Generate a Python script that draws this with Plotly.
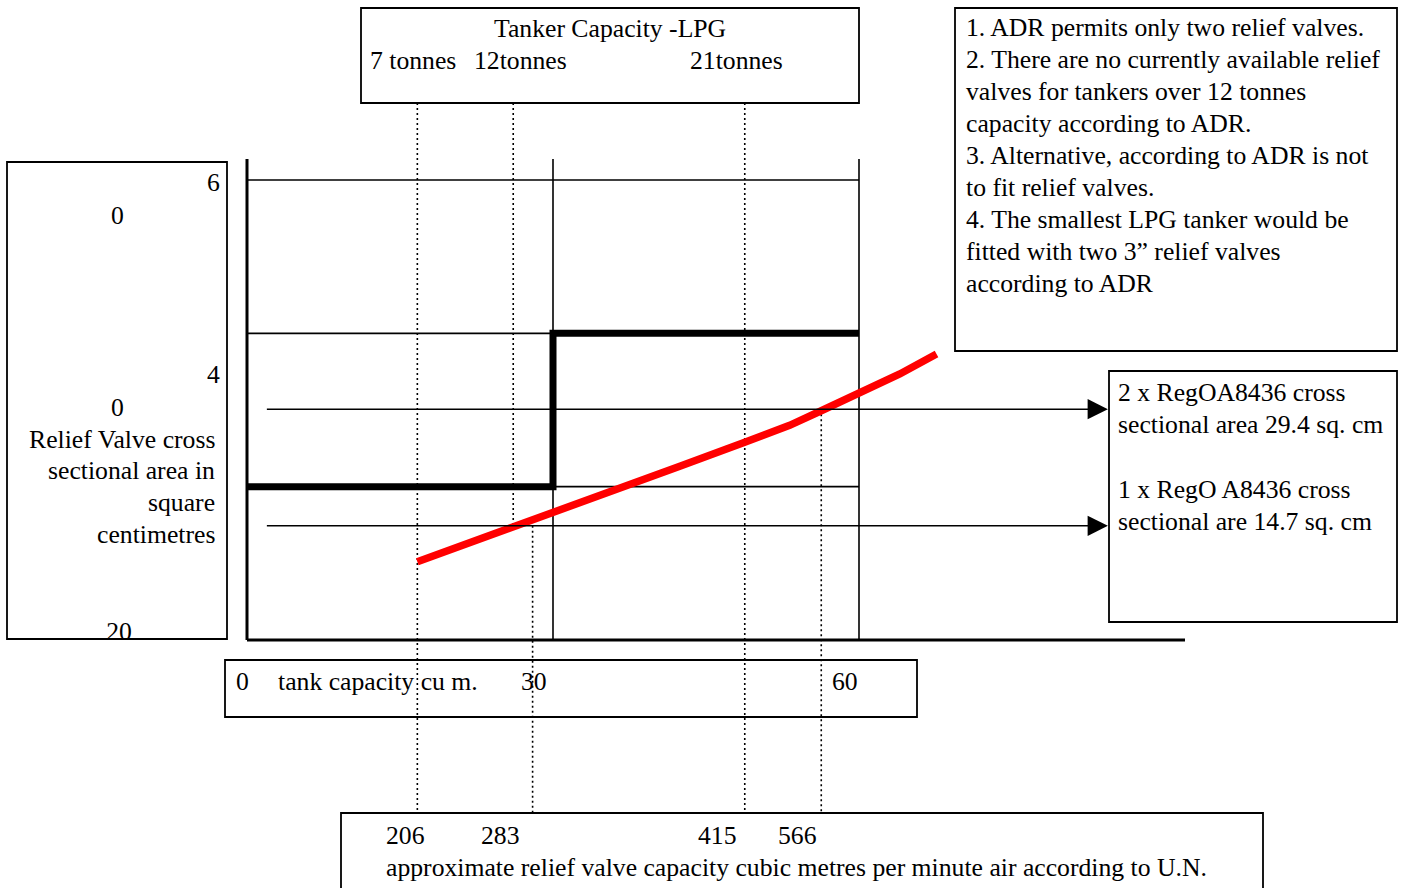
import plotly.graph_objects as go

# ---------------- data ----------------
# tank capacity (cu m) axis
tank_ticks = [0, 30, 60]
tank_tick_labels = ["0", "30", "60"]
# relief valve cross sectional area grid levels (sq cm)
area_grid = [20, 40, 60]
# required area step (thick black)
step_x = [0, 30, 60]
step_y = [20, 40, 40]
# approximate relief valve capacity curve (red)
red_x = [16.7, 21.9, 28.0, 34.6, 42.5, 48.8, 53.2, 56.3, 60.0, 64.0, 67.6]
red_y = [10.2, 12.7, 15.5, 18.8, 22.7, 25.8, 28.0, 29.9, 32.1, 34.7, 37.3]
# levels of the two RegO A8436 arrows (as drawn)
arrow_levels = [30.1, 14.9]
arrow_start_x = 1.8
arrow_tip_x = 84.4
# tanker sizes (LPG) on the tank capacity scale
tonnes_x = [16.7, 26.1, 48.8]
tonnes_labels = ["7 tonnes", "12tonnes", "21tonnes"]
# relief valve capacity (cu m / min air) markers
flow_x = [16.7, 28.0, 48.8, 56.3]
flow_labels = ["206", "283", "415", "566"]

notes = [
    "1. ADR permits only two relief valves.",
    "2. There are no currently available relief",
    "valves for tankers over 12 tonnes",
    "capacity according to ADR.",
    "3. Alternative, according to ADR is not",
    "to fit relief valves.",
    "4. The smallest LPG tanker would be",
    "fitted with two 3\u201d relief valves",
    "according to ADR",
]
valve_labels = [
    "2 x RegOA8436 cross",
    "sectional area 29.4 sq. cm",
    "1 x RegO A8436 cross",
    "sectional are 14.7 sq. cm",
]
y_title_lines = ["Relief Valve cross", "sectional area in", "square", "centimetres"]
x_title = "tank capacity cu m."
flow_title = "approximate relief valve capacity cubic metres per minute air according to U.N."
top_title = "Tanker Capacity -LPG"

# ---------------- layout geometry ----------------
W, H = 1401, 888
X0_PX, X60_PX = 247.0, 859.0   # pixel of tank capacity 0 and 60
Y0_PX, Y60_PX = 640.0, 180.0   # pixel of area 0 and 60
sx = (X60_PX - X0_PX) / 60.0
sy = (Y0_PX - Y60_PX) / 60.0
xmin = -X0_PX / sx
xmax = xmin + W / sx
ymax = Y0_PX / sy
ymin = ymax - H / sy


def pxx(px):  # pixel -> data x
    return xmin + px / sx


def pxy(py):  # pixel -> data y
    return ymax - py / sy


FONT = "Liberation Serif, Times New Roman, serif"
FS = 25.7

fig = go.Figure()

# grid lines (thin)
shapes = []
for g in area_grid:
    shapes.append(dict(type="line", xref="x", yref="y", x0=0, x1=60, y0=g, y1=g,
                       line=dict(color="black", width=1.6), layer="below"))
axis_top = pxy(159)
for t in tank_ticks[1:]:
    shapes.append(dict(type="line", xref="x", yref="y", x0=t, x1=t, y0=0, y1=axis_top,
                       line=dict(color="black", width=1.6), layer="below"))
# axis lines
shapes.append(dict(type="line", xref="x", yref="y", x0=0, x1=0, y0=0, y1=axis_top,
                   line=dict(color="black", width=3)))
shapes.append(dict(type="line", xref="x", yref="y", x0=0, x1=pxx(1185), y0=0, y1=0,
                   line=dict(color="black", width=3)))

# dotted marker lines
top_box_y = pxy(103)
bot_box_y = pxy(813)
segments = [
    (tonnes_x[0], top_box_y, bot_box_y),
    (tonnes_x[1], top_box_y, arrow_levels[1]),
    (flow_x[1], arrow_levels[1], bot_box_y),
    (tonnes_x[2], top_box_y, bot_box_y),
    (flow_x[3], arrow_levels[0], bot_box_y),
]
dx, dy = [], []
for x, a, b in segments:
    dx += [x, x, None]
    dy += [a, b, None]
fig.add_trace(go.Scatter(x=dx, y=dy, mode="lines", line=dict(color="black", width=1.6, dash="2px,3px"),
                         hoverinfo="skip"))

# step line
fig.add_trace(go.Scatter(x=step_x, y=step_y, mode="lines", line=dict(color="black", width=7, shape="hv"),
                         hoverinfo="skip"))
# red line
fig.add_trace(go.Scatter(x=red_x, y=red_y, mode="lines", line=dict(color="#ff0000", width=7.5),
                         hoverinfo="skip"))

# arrows
for lv in arrow_levels:
    fig.add_annotation(x=arrow_tip_x, y=lv, ax=arrow_start_x, ay=lv, xref="x", yref="y",
                       axref="x", ayref="y", text="", showarrow=True, arrowhead=2,
                       arrowsize=2.7, arrowwidth=1.5, arrowcolor="black")

# boxes (pixel positions)
LEFT_BOX = (7, 162, 227, 639)
boxes = [
    (361, 8, 859, 103),
    (955, 8, 1397, 351),
    LEFT_BOX,
    (1109, 371, 1397, 622),
    (225, 660, 917, 717),
    (341, 813, 1263, 900),
]
for x0, y0, x1, y1 in boxes:
    shapes.append(dict(type="rect", xref="paper", yref="paper", x0=x0 / W, x1=x1 / W,
                       y0=1 - y1 / H, y1=1 - y0 / H, line=dict(color="black", width=1.8),
                       fillcolor="rgba(0,0,0,0)"))


def label(text, x_px, base_px, anchor="left"):
    fig.add_annotation(text=text, xref="paper", yref="paper", x=x_px / W,
                       y=1 - (base_px - 0.34 * FS) / H, xanchor=anchor, yanchor="middle",
                       showarrow=False, borderpad=0, font=dict(family=FONT, size=FS, color="black"))


# top box
label(top_title, 610, 37, "center")
for t, xp in zip(tonnes_labels, [369, 473, 689]):
    label(t, xp, 69)
# notes box
for i, line in enumerate(notes):
    label(line, 965, 36 + 32 * i)
# valve box
for line, b in zip(valve_labels, [401, 433, 498, 530]):
    label(line, 1117, b)
# left box (y scale text box)
label("6", 221, 191, "right")
label("0", 117, 224, "center")
label("4", 221, 383, "right")
label("0", 117, 416, "center")
for line, b in zip(y_title_lines, [448, 479, 511, 543]):
    label(line, 216, b, "right")

# "20" clipped by the bottom of the left text box: draw it in a small subplot
bx0, by0, bx1, by1 = LEFT_BOX
fig.add_trace(go.Scatter(
    x=[(119 - bx0) / (bx1 - bx0)], y=[1 - ((642 - 0.34 * FS) - by0) / (by1 - by0)],
    mode="text", text=["20"], textposition="middle center",
    textfont=dict(family=FONT, size=FS, color="black"),
    xaxis="x2", yaxis="y2", cliponaxis=True, hoverinfo="skip"))

# tank capacity box
label(tank_tick_labels[0], 235, 690)
label(x_title, 277, 690)
label(tank_tick_labels[1], 520, 690)
label(tank_tick_labels[2], 831, 690)
# flow box
for t, xp in zip(flow_labels, [385, 480, 697, 777]):
    label(t, xp, 844)
label(flow_title, 385, 876)

fig.update_layout(
    width=W, height=H, margin=dict(l=0, r=0, t=0, b=0),
    paper_bgcolor="white", plot_bgcolor="rgba(0,0,0,0)", showlegend=False,
    xaxis=dict(range=[xmin, xmax], visible=False, fixedrange=True),
    yaxis=dict(range=[ymin, ymax], visible=False, fixedrange=True),
    xaxis2=dict(domain=[bx0 / W, bx1 / W], range=[0, 1], visible=False, fixedrange=True,
                anchor="y2"),
    yaxis2=dict(domain=[1 - by1 / H, 1 - by0 / H], range=[0, 1], visible=False, fixedrange=True,
                anchor="x2"),
    shapes=shapes,
)

fig.write_html("out.html", config={"displayModeBar": False},
               post_script="document.body.style.margin='0';document.body.style.overflow='hidden';")
